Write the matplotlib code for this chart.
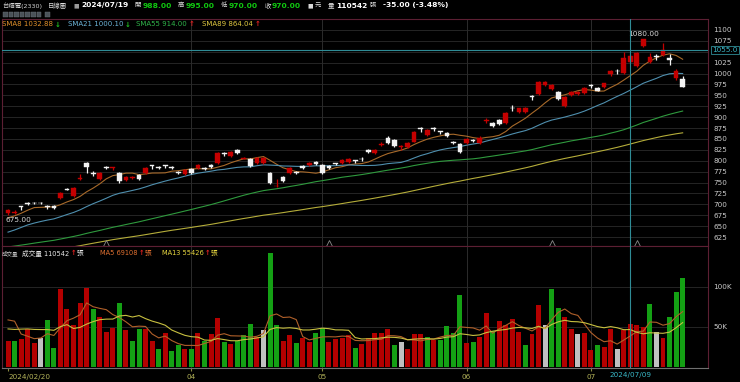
import numpy as np
import matplotlib.pyplot as plt
from matplotlib.patches import Rectangle
from matplotlib.transforms import blended_transform_factory

plt.rcParams['font.family'] = ['DejaVu Sans', 'Noto Sans CJK TC']

W, H = 740, 382

# daily candles 2024/02/20 .. 2024/07/19
opens = [679, 681, 695, 703, 704, 703, 695, 697, 714, 736,
         718, 757, 795, 771, 758, 785, 784, 772, 756, 760,
         767, 772, 789, 785, 789, 786, 775, 770, 782, 784,
         783, 790, 794, 816, 811, 825, 805, 804, 795, 795,
         772, 741, 763, 772, 774, 788, 790, 797, 790, 788,
         794, 795, 797, 801, 804, 825, 818, 836, 853, 848,
         832, 831, 844, 873, 859, 873, 868, 864, 843, 838,
         840, 847, 840, 891, 887, 893, 887, 921, 912, 912,
         947, 953, 974, 965, 958, 926, 951, 953, 956, 972,
         967, 970, 1000, 1006, 1002, 1027, 1017, 1063, 1026, 1039,
         1043, 1035, 990, 988]
highs = [690, 686, 696, 705, 705, 705, 698, 698, 728, 738,
         740, 770, 797, 776, 774, 787, 786, 775, 765, 764,
         770, 785, 790, 788, 790, 788, 777, 781, 784, 792,
         786, 792, 820, 820, 822, 828, 809, 806, 808, 808,
         775, 758, 765, 785, 776, 790, 797, 800, 792, 790,
         795, 804, 806, 802, 808, 827, 827, 842, 856, 850,
         835, 843, 868, 878, 873, 877, 869, 866, 845, 840,
         852, 850, 856, 897, 890, 895, 912, 928, 922, 923,
         950, 983, 983, 976, 960, 948, 960, 961, 969, 976,
         969, 979, 1008, 1010, 1050, 1045, 1050, 1080, 1048, 1046,
         1070, 1045, 1010, 995]
lows = [675, 678, 688, 698, 700, 700, 690, 689, 712, 732,
        716, 756, 773, 765, 756, 780, 778, 750, 754, 757,
        756, 770, 782, 781, 783, 781, 770, 768, 770, 782,
        779, 784, 792, 811, 809, 816, 803, 786, 793, 793,
        747, 740, 752, 770, 770, 781, 788, 790, 770, 781,
        790, 793, 795, 795, 799, 818, 816, 834, 838, 832,
        825, 829, 842, 866, 857, 868, 862, 855, 838, 818,
        838, 842, 838, 887, 878, 882, 885, 915, 910, 910,
        940, 951, 972, 962, 939, 924, 949, 951, 954, 966,
        959, 968, 995, 1000, 1000, 1025, 1015, 1060, 1025, 1030,
        1040, 1020, 985, 970]
closes = [688, 683, 694, 701, 702, 702, 694, 691, 726, 734,
          737, 760, 786, 770, 772, 783, 785, 753, 763, 761,
          758, 783, 788, 784, 788, 783, 772, 779, 772, 790,
          782, 786, 818, 815, 820, 818, 806, 788, 806, 806,
          749, 743, 754, 783, 772, 783, 795, 792, 772, 783,
          792, 802, 804, 800, 803, 820, 825, 838, 840, 834,
          834, 841, 866, 872, 871, 872, 867, 857, 841, 821,
          850, 846, 853, 893, 880, 884, 910, 920, 921, 920,
          946, 981, 981, 974, 941, 946, 958, 958, 967, 971,
          961, 978, 1005, 1005, 1035, 1040, 1048, 1080, 1038, 1038,
          1054, 1030, 1005, 970]
# volume in thousand lots
volumes = [32, 32, 35, 48, 30, 36, 59, 24, 97, 73,
           52, 80, 98, 73, 63, 44, 49, 80, 46, 32,
           48, 47, 33, 22, 43, 20, 28, 22, 22, 42,
           33, 41, 61, 31, 29, 32, 40, 54, 37, 46,
           142, 52, 32, 40, 30, 36, 31, 42, 49, 31,
           35, 36, 40, 24, 29, 36, 42, 42, 47, 28,
           31, 22, 41, 41, 37, 34, 34, 51, 42, 90,
           30, 31, 37, 68, 45, 58, 52, 60, 44, 28,
           41, 77, 52, 97, 74, 62, 48, 41, 43, 21,
           28, 25, 47, 22, 46, 54, 52, 50, 79, 44,
           36, 62, 93, 110.542]

# earlier sessions (2023/10/11 .. 2024/02/19), only used to warm up the averages
prior_closes = [537, 546, 542, 535, 540, 550, 545, 536, 530, 533, 535, 524, 527, 533, 536,
                540, 549, 555, 565, 559, 563, 564, 560, 565, 568, 580, 578, 577, 576, 578,
                577, 579, 576, 575, 572, 577, 578,
                573, 581, 575, 574, 566, 572, 574, 579, 577, 582, 592, 583, 584, 586, 583,
                589, 587, 587, 592, 593, 593,
                593, 578, 580, 576, 580, 583, 577, 589, 580, 577, 580, 572, 580, 612, 626,
                626, 632, 625, 628, 636, 633, 631,
                628, 646, 647, 645, 654, 697, 690, 685]
prior_volumes = [40, 30, 45, 38, 38, 60, 35, 38, 40, 115, 62, 45]

ma_periods = [8, 21, 55, 89]
ma_colors = ['#a86a2a', '#4f8fae', '#2f9a3e', '#b5ad3a']
ma_text_colors = ['#e0902a', '#6cb4d8', '#2fb44a', '#e0c840']
vol_ma_periods = [5, 13]
vol_ma_colors = ['#b0602a', '#c8c040']
vol_ma_text_colors = ['#e07030', '#e8d840']

tick_idx = [0, 28, 48, 70, 89]
tick_labels = ['2024/02/20', '04', '05', '06', '07']
marker_idx = [15, 49, 83, 96]
cursor_idx = 95
cursor_label = '2024/07/09'
cursor_price = 1055.0


def sma(values, n, warm):
    a = np.asarray(values, float)
    out = np.convolve(a, np.ones(n) / n, mode='valid')
    return out[warm - n + 1:]


def fx(x):
    return x / W


def fy(y):
    return 1 - y / H


o = np.array(opens, float)
h = np.array(highs, float)
l = np.array(lows, float)
c = np.array(closes, float)
v = np.array(volumes, float)
idx = np.arange(len(c))

fig = plt.figure(figsize=(W / 100, H / 100), dpi=100, facecolor='black')
renderer = fig.canvas.get_renderer()
ax = fig.add_axes([fx(2), fy(246), fx(708) - fx(2), fy(19) - fy(246)])
axv = fig.add_axes([fx(2), fy(368), fx(708) - fx(2), fy(246) - fy(368)], sharex=ax)


def put(x, y, txt, size=5.0, **kw):
    # draws a text at pixel x, y and gives back its right edge in pixels
    t = fig.text(fx(x), fy(y), txt, fontsize=size, va='center', ha='left', **kw)
    return x + t.get_window_extent(renderer).width


for a in (ax, axv):
    a.set_facecolor('black')
    for s in a.spines.values():
        s.set_color('#5c1f33')
        s.set_linewidth(0.8)
    for t in tick_idx[1:]:
        a.axvline(t, color='#333333', lw=0.6, zorder=0)

# price panel
price_ticks = list(range(625, 1101, 25))
for p in price_ticks:
    ax.axhline(p, color='#2a2a2a', lw=0.6, zorder=0)

full_c = list(prior_closes) + list(closes)
for n, col in zip(ma_periods, ma_colors):
    ax.plot(idx, sma(full_c, n, len(prior_closes)), color=col, lw=0.8, zorder=2)

up = c > o
ccol = np.where(up, '#c40000', '#f2f2f2')
ax.vlines(idx, l, h, colors=ccol, lw=0.9, zorder=3)
ax.bar(idx, np.maximum(np.abs(c - o), 2.0), bottom=np.minimum(o, c), width=0.72,
       color=ccol, edgecolor=ccol, linewidth=0.3, zorder=4)

ax.plot(marker_idx, [612] * len(marker_idx), linestyle='none', marker='^', ms=4,
        mfc='none', mec='#8a8a8a', mew=0.6, zorder=3)

ax.axhline(cursor_price, color='#2f8c96', lw=0.8, zorder=5)
ax.axvline(cursor_idx, color='#2f8c96', lw=0.8, zorder=5)
axv.axvline(cursor_idx, color='#2f8c96', lw=0.8, zorder=5)

hi = int(np.argmax(h))
lo = int(np.argmin(l))
ax.text(hi, h[hi] + 4, f'{h[hi]:.2f}', color='#d8d8d8', fontsize=5.3, ha='center', va='bottom')
ax.text(lo - 0.4, l[lo] - 3, f'{l[lo]:.2f}', color='#d8d8d8', fontsize=5.3, ha='left', va='top')

ax.set_xlim(-0.92, 106.87)
ax.set_ylim(604.4, 1125.2)
ax.yaxis.tick_right()
shown = [p for p in price_ticks if abs(p - cursor_price) > 12]
ax.set_yticks(shown)
ax.tick_params(axis='y', colors='#c8c8c8', labelsize=5.2, length=0, pad=4)
ax.tick_params(axis='x', bottom=False, labelbottom=False)

tr = blended_transform_factory(ax.transAxes, ax.transData)
ax.text(1.006, cursor_price, f'{cursor_price:.1f}', transform=tr, color='#3ab8c8',
        fontsize=5.2, va='center', ha='left',
        bbox=dict(boxstyle='square,pad=0.15', fc='black', ec='#2f8c96', lw=0.6))

# legend row of the price panel
for n, col, lx in zip(ma_periods, ma_text_colors, [2, 68, 136, 202]):
    val = sma(full_c, n, len(prior_closes))
    rising = val[-1] >= val[-2]
    end = put(lx, 24.5, f'SMA{n} {val[-1]:.2f}', color=col)
    put(end + 1.5, 24.5, '↑' if rising else '↓', color='#e02020' if rising else '#20c020',
        fontweight='bold')

# volume panel
for q in (50, 100):
    axv.axhline(q, color='#2a2a2a', lw=0.6, zorder=0)
prev = np.concatenate([[prior_closes[-1]], c[:-1]])
vcol = np.where(c > prev, '#b40000', np.where(c < prev, '#14a014', '#c0c0c0'))
axv.bar(idx, v, width=0.76, color=vcol, zorder=2)
full_v = list(prior_volumes) + list(volumes)
for n, col in zip(vol_ma_periods, vol_ma_colors):
    axv.plot(idx, sma(full_v, n, len(prior_volumes)), color=col, lw=0.8, zorder=3)
axv.set_ylim(-1.2, 151)
axv.yaxis.tick_right()
axv.set_yticks([50, 100])
axv.set_yticklabels(['50K', '100K'])
axv.tick_params(axis='y', colors='#c8c8c8', labelsize=5.2, length=0, pad=4)
axv.set_xticks(tick_idx)
axv.set_xticklabels(tick_labels)
axv.tick_params(axis='x', colors='#8a8a40', labelcolor='#b4b45a', labelsize=5.2,
                length=2, pad=2)
axv.get_xticklabels()[0].set_ha('left')
axv.spines['bottom'].set_color('#707070')

fig.text(fx(8 + 6.55 * cursor_idx), fy(375.5), cursor_label, color='#3ab8c8',
         fontsize=5.2, ha='center', va='center')

vy = 253
put(2, vy, '成交量', size=4.0, color='#c8c8c8')
end = put(22, vy, f'成交量 {v[-1] * 1000:.0f}', size=4.8, color='#e8e8e8')
end = put(end + 1, vy, '↑', size=4.8, color='#e02020', fontweight='bold')
put(end + 0.5, vy, '張', size=4.8, color='#e8e8e8')
for n, col, lx in zip(vol_ma_periods, vol_ma_text_colors, [100, 162]):
    val = sma(full_v, n, len(prior_volumes))
    end = put(lx, vy, f'MA{n} {val[-1] * 1000:.0f}', size=4.8, color=col)
    end = put(end + 1, vy, '↑', size=4.8, color='#e02020', fontweight='bold')
    put(end + 0.5, vy, '張', size=4.8, color=col)

# header: pieces laid out left to right, the loose gaps stretched so it ends near x=448
chg = c[-1] - c[-2]
green = '#10c810'
grey = '#e0e0e0'
pieces = [
    ('台積電(2330)', 4.6, '#d0d0d0', 'normal', 0),
    ('日線圖', 4.6, grey, 'normal', 'g'),
    ('■', 4.2, '#9a9a9a', 'normal', 'g'),
    ('2024/07/19', 5.4, '#ffffff', 'bold', 2),
    ('開', 4.6, grey, 'normal', 'g'), (f'{o[-1]:.2f}', 5.4, green, 'bold', 1.5),
    ('高', 4.6, grey, 'normal', 'g'), (f'{h[-1]:.2f}', 5.4, green, 'bold', 1.5),
    ('低', 4.6, grey, 'normal', 'g'), (f'{l[-1]:.2f}', 5.4, green, 'bold', 1.5),
    ('收', 4.6, grey, 'normal', 'g'), (f'{c[-1]:.2f}', 5.4, green, 'bold', 1.5),
    ('■', 4.2, '#d8d8d8', 'normal', 'g'), ('元', 4.6, grey, 'normal', 2),
    ('量', 4.6, grey, 'normal', 'g'), (f'{v[-1] * 1000:.0f}', 5.4, '#ffffff', 'bold', 2),
    ('張', 4.6, grey, 'normal', 3),
    (f'{chg:.2f} ({chg / c[-2] * 100:.2f}%)', 5.4, '#ffffff', 'bold', 'g'),
]
hy = fy(5.5)
arts = [fig.text(0, hy, t, fontsize=s, color=col, fontweight=wt, va='center', ha='left')
        for t, s, col, wt, _ in pieces]
widths = [a.get_window_extent(renderer).width for a in arts]
fixed = sum(gp for *_, gp in pieces if gp != 'g')
n_loose = sum(1 for *_, gp in pieces if gp == 'g')
loose = (448 - 2 - sum(widths) - fixed) / n_loose
x = 2
for a, wd, piece in zip(arts, widths, pieces):
    gp = piece[4]
    x += loose if gp == 'g' else gp
    a.set_x(fx(x))
    x += wd

for k in range(8):
    bx = 3 + k * 5.6 + (3 if k == 7 else 0)
    fig.patches.append(Rectangle((fx(bx), fy(17)), fx(4.6), fy(12) - fy(17),
                                 transform=fig.transFigure, fc='#4a5258', ec='#6a7278', lw=0.3))

fig.savefig('out.png', dpi=100, facecolor='black')
